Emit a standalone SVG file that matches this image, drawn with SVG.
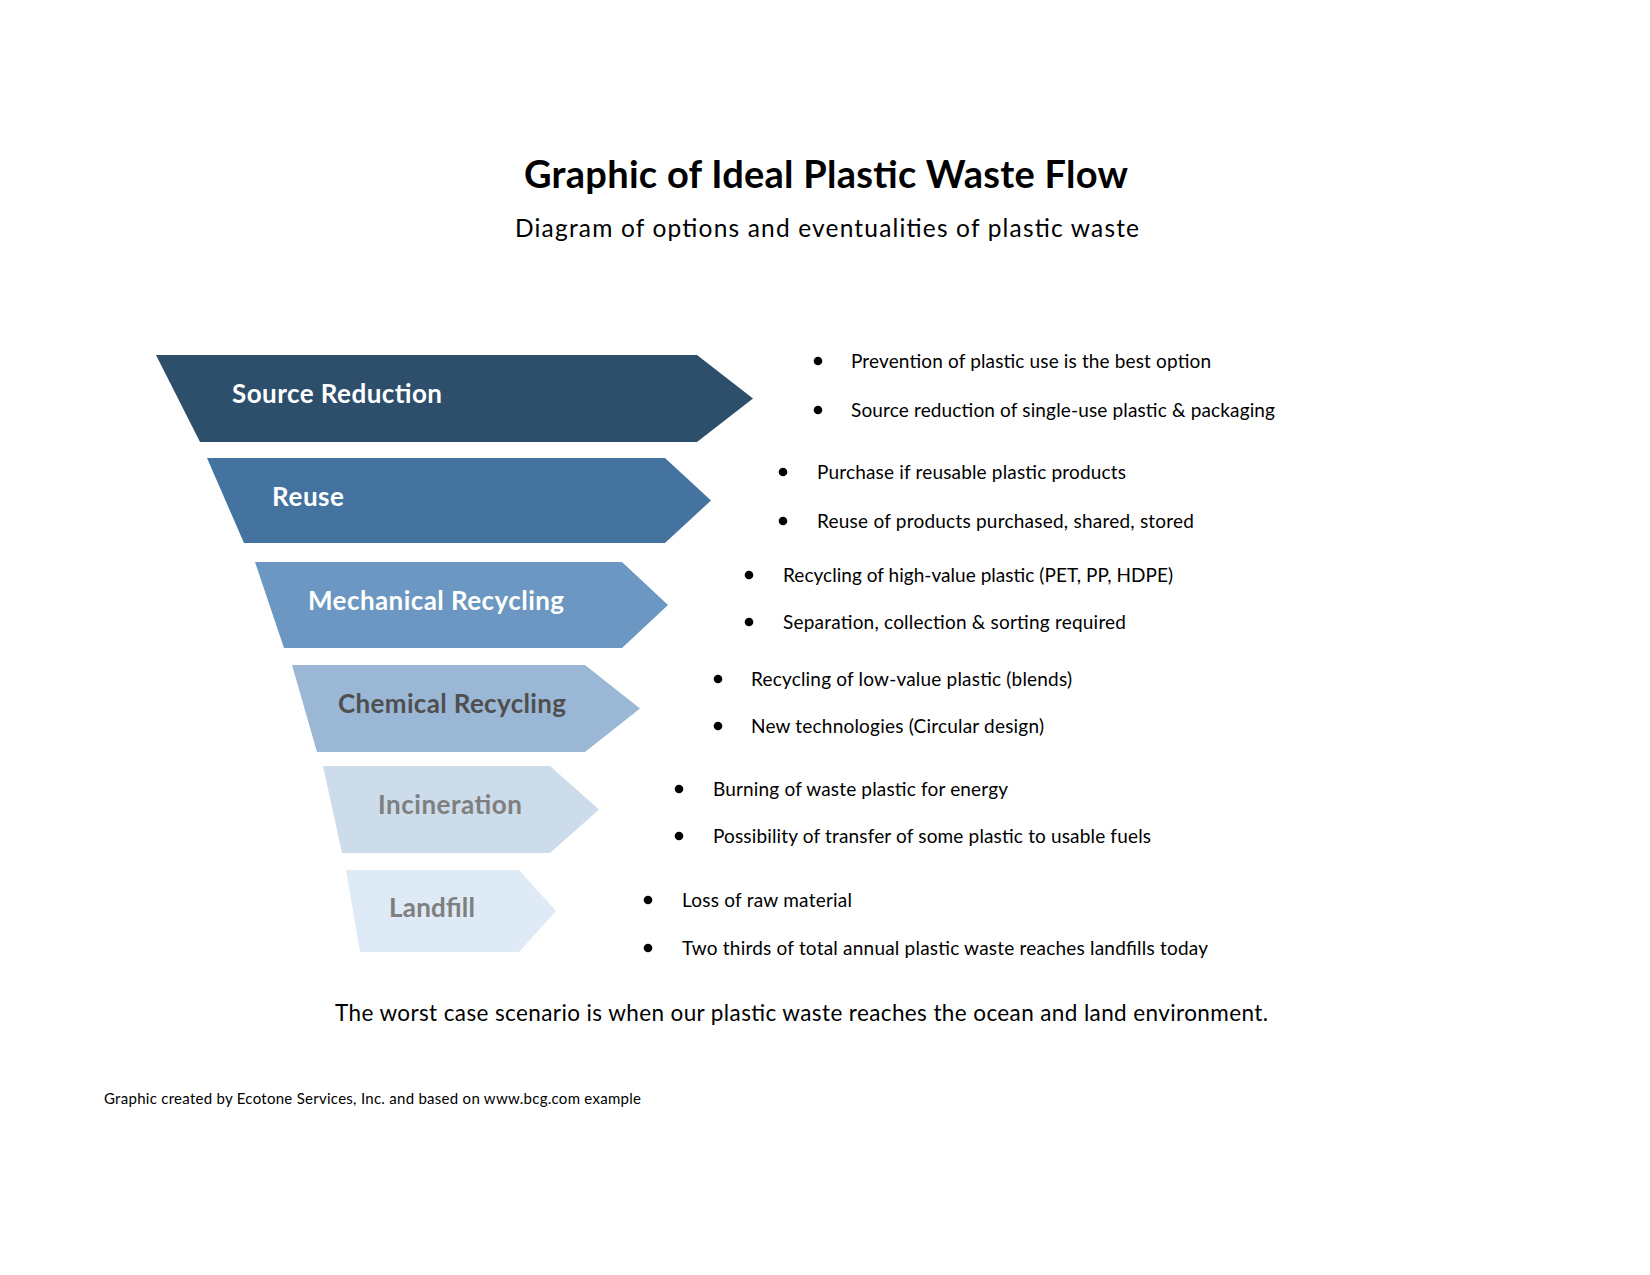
<svg xmlns="http://www.w3.org/2000/svg" width="1650" height="1275" viewBox="0 0 1650 1275">
  <style>
    text { font-family: Lato, "Open Sans", "Liberation Sans", sans-serif; }
    .title { font-size: 38px; font-weight: bold; fill: #000; }
    .sub { font-size: 24.5px; fill: #000; }
    .note { font-size: 22.5px; fill: #000; }
    .lbl { font-size: 26px; font-weight: bold; }
    .bt { font-size: 19px; fill: #000; }
    .foot { font-size: 15px; fill: #000; }
    .bul { fill: #000; }
  </style>
  <rect width="1650" height="1275" fill="#ffffff"/>
  <g id="title">
    <text class="title" x="524" y="188" textLength="604">Graphic of Ideal Plastic Waste Flow</text>
    <text class="sub" x="515" y="237" textLength="624">Diagram of options and eventualities of plastic waste</text>
  </g>
  <g id="node-source-reduction">
    <polygon points="156,355 697,355 753,398.5 697,442 200,442" fill="#2D4F6C"/>
    <text class="lbl" x="232" y="403" fill="#ffffff" textLength="210">Source Reduction</text>
  </g>
  <g id="node-reuse">
    <polygon points="207,458 665,458 711,500.5 665,543 244,543" fill="#44739F"/>
    <text class="lbl" x="272" y="506" fill="#ffffff" textLength="72">Reuse</text>
  </g>
  <g id="node-mechanical">
    <polygon points="255,562 622,562 668,605 622,648 284,648" fill="#6B97C2"/>
    <text class="lbl" x="308" y="610" fill="#ffffff" textLength="256">Mechanical Recycling</text>
  </g>
  <g id="node-chemical">
    <polygon points="292,665 585,665 640,708.5 585,752 317,752" fill="#9AB8D6"/>
    <text class="lbl" x="338" y="713" fill="#4F4F4F" textLength="228">Chemical Recycling</text>
  </g>
  <g id="node-incineration">
    <polygon points="323,766 550,766 599,809.5 550,853 342,853" fill="#CCDCEA"/>
    <text class="lbl" x="378" y="814" fill="#7F7F7F" textLength="144">Incineration</text>
  </g>
  <g id="node-landfill">
    <polygon points="346,870 519,870 556,911 519,952 360,952" fill="#DEEAF6"/>
    <text class="lbl" x="389" y="917" fill="#7F7F7F" textLength="86">Landfill</text>
  </g>
  <g id="bullets">
    <circle class="bul" cx="818" cy="361" r="4.3"/>
    <text class="bt" x="851" y="368" textLength="360">Prevention of plastic use is the best option</text>
    <circle class="bul" cx="818" cy="410" r="4.3"/>
    <text class="bt" x="851" y="417" textLength="424">Source reduction of single-use plastic &amp; packaging</text>

    <circle class="bul" cx="783" cy="472" r="4.3"/>
    <text class="bt" x="817" y="479" textLength="309">Purchase if reusable plastic products</text>
    <circle class="bul" cx="783" cy="521" r="4.3"/>
    <text class="bt" x="817" y="528" textLength="377">Reuse of products purchased, shared, stored</text>

    <circle class="bul" cx="749" cy="575" r="4.3"/>
    <text class="bt" x="783" y="582" textLength="390">Recycling of high-value plastic (PET, PP, HDPE)</text>
    <circle class="bul" cx="749" cy="622" r="4.3"/>
    <text class="bt" x="783" y="629" textLength="343">Separation, collection &amp; sorting required</text>

    <circle class="bul" cx="718" cy="679" r="4.3"/>
    <text class="bt" x="751" y="686" textLength="321">Recycling of low-value plastic (blends)</text>
    <circle class="bul" cx="718" cy="726" r="4.3"/>
    <text class="bt" x="751" y="733" textLength="293">New technologies (Circular design)</text>

    <circle class="bul" cx="679" cy="789" r="4.3"/>
    <text class="bt" x="713" y="796" textLength="295">Burning of waste plastic for energy</text>
    <circle class="bul" cx="679" cy="836" r="4.3"/>
    <text class="bt" x="713" y="843" textLength="438">Possibility of transfer of some plastic to usable fuels</text>

    <circle class="bul" cx="648" cy="900" r="4.3"/>
    <text class="bt" x="682" y="907" textLength="170">Loss of raw material</text>
    <circle class="bul" cx="648" cy="948" r="4.3"/>
    <text class="bt" x="682" y="955" textLength="526">Two thirds of total annual plastic waste reaches landfills today</text>
  </g>
  <g id="connectors"></g>
  <g id="notes">
    <text class="note" x="335" y="1021" textLength="933">The worst case scenario is when our plastic waste reaches the ocean and land environment.</text>
    <text class="foot" x="104" y="1104" textLength="537">Graphic created by Ecotone Services, Inc. and based on www.bcg.com example</text>
  </g>
</svg>
